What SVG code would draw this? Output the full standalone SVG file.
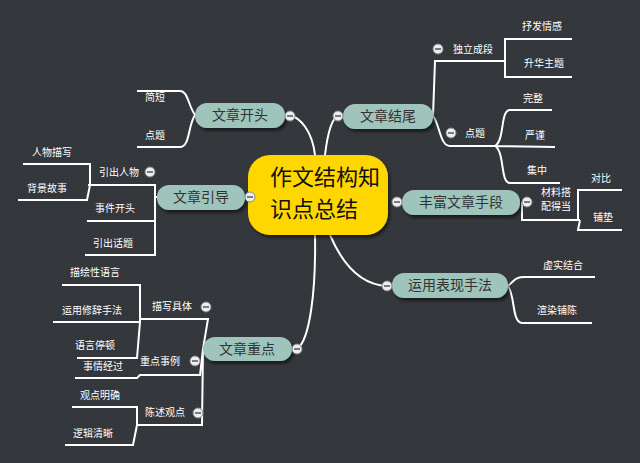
<svg xmlns="http://www.w3.org/2000/svg" width="640" height="463" viewBox="0 0 640 463">
<defs>
<pattern id="dots" width="4" height="4" patternUnits="userSpaceOnUse"><rect width="4" height="4" fill="#33363a"/><rect x="1" y="1" width="1" height="1" fill="#3d4044"/></pattern>
<filter id="sh" x="-10%" y="-10%" width="130%" height="150%"><feDropShadow dx="2" dy="3" stdDeviation="1.5" flood-color="#000" flood-opacity="0.5"/></filter>
</defs>
<style>
.ln{fill:none;stroke:#fff;stroke-width:2}
.mn{fill:#9fc4bc;filter:url(#sh)}
.mt{font-family:"Noto Sans CJK SC",sans-serif;font-size:14px;fill:#333;text-anchor:middle}
.st{font-family:"Noto Sans CJK SC",sans-serif;font-size:10px;fill:#fff;text-anchor:middle}
.cc{fill:#eee;stroke:#888;stroke-width:1}
.cm{stroke:#555;stroke-width:1.5}
</style>
<rect width="640" height="463" fill="url(#dots)"/>
<g id="connectors">
<path class="ln" d="M315 155 C312 130 300 118 290 115"/>
<path class="ln" d="M325 155 C328 130 333 118 338 116"/>
<path class="ln" d="M315 235 C316 290 310 340 297 349"/>
<path class="ln" d="M330 235 C345 270 365 285 387 286"/>
<path class="ln" d="M195 115 C188 105 188 91 180 91 L137 91 M195 115 C188 125 190 147 180 147 L137 147"/>
<path class="ln" d="M157 197 L155 197 L155 185 L88 185 M155 197 L155 255 L85 255 M155 221 L87 221"/>
<path class="ln" d="M90 185 L90 164 L23 164 M90 185 L87 200 L18 200"/>
<path class="ln" d="M203 349 L208 319 L140 319 M203 349 L200 375 L140 375 L137 378 L75 378 M203 349 L202 425 L137 425"/>
<path class="ln" d="M140 319 L140 285 L62 285 M140 319 L140 322 L53 322 M140 322 L137 358 L77 358"/>
<path class="ln" d="M137 425 L137 407 L72 407 M137 425 L133 445 L65 445"/>
<path class="ln" d="M433 116 L435 61 L505 61 M433 116 C440 125 440 146 450 146 L495 146"/>
<path class="ln" d="M505 61 L505 39 L572 39 M505 61 L505 77 L572 77"/>
<path class="ln" d="M495 146 C505 140 500 110 510 110 L552 110 M495 146 L555 147 M495 146 C505 152 500 183 510 183 L560 183"/>
<path class="ln" d="M522 202 L522 220 L580 220 M578 220 L578 190 L622 190 M580 220 L578 230 L622 230"/>
<path class="ln" d="M508 286 C515 280 515 277 525 277 L595 277 M508 286 C515 295 512 323 522 323 L592 323"/>
</g>
<g id="center"><rect x="248" y="155" width="140" height="80" rx="22" fill="#ffd700" filter="url(#sh)"/>
<text x="270" y="185" font-family="Noto Sans CJK SC,sans-serif" font-size="22" fill="#111">作文结构知</text>
<text x="270" y="217" font-family="Noto Sans CJK SC,sans-serif" font-size="22" fill="#111">识点总结</text></g>
<g id="n-kaitou"><rect class="mn" x="195" y="103" width="90" height="25" rx="12"/><text class="mt" x="240" y="120">文章开头</text><circle class="cc" cx="290" cy="116" r="5"/><line class="cm" x1="287" y1="116" x2="293" y2="116"/></g>
<g id="n-yindao"><rect class="mn" x="157" y="185" width="88" height="25" rx="12"/><text class="mt" x="201" y="202">文章引导</text><circle class="cc" cx="250" cy="197" r="5"/><line class="cm" x1="247" y1="197" x2="253" y2="197"/></g>
<g id="n-zhongdian"><rect class="mn" x="203" y="337" width="89" height="24" rx="12"/><text class="mt" x="247" y="354">文章重点</text><circle class="cc" cx="297" cy="349" r="5"/><line class="cm" x1="294" y1="349" x2="300" y2="349"/></g>
<g id="n-jiewei"><rect class="mn" x="343" y="104" width="90" height="25" rx="12"/><text class="mt" x="388" y="121">文章结尾</text><circle class="cc" cx="338" cy="116" r="5"/><line class="cm" x1="335" y1="116" x2="341" y2="116"/></g>
<g id="n-fengfu"><rect class="mn" x="402" y="190" width="118" height="25" rx="12"/><text class="mt" x="461" y="207">丰富文章手段</text><circle class="cc" cx="397" cy="202" r="5"/><line class="cm" x1="394" y1="202" x2="400" y2="202"/><circle class="cc" cx="527" cy="202" r="5"/><line class="cm" x1="524" y1="202" x2="530" y2="202"/></g>
<g id="n-yunyong"><rect class="mn" x="392" y="273" width="116" height="25" rx="12"/><text class="mt" x="450" y="290">运用表现手法</text><circle class="cc" cx="387" cy="286" r="5"/><line class="cm" x1="384" y1="286" x2="390" y2="286"/></g>
<g id="subs">
<text class="st" x="155" y="101">简短</text><text class="st" x="155" y="139">点题</text>
<text class="st" x="119" y="176">引出人物</text><circle class="cc" cx="150" cy="172" r="5"/><line class="cm" x1="147" y1="172" x2="153" y2="172"/>
<text class="st" x="115" y="212">事件开头</text><text class="st" x="113" y="247">引出话题</text>
<text class="st" x="52" y="156">人物描写</text><text class="st" x="47" y="192">背景故事</text>
<text class="st" x="172" y="310">描写具体</text><circle class="cc" cx="206" cy="307" r="5"/><line class="cm" x1="203" y1="307" x2="209" y2="307"/>
<text class="st" x="95" y="276">描绘性语言</text><text class="st" x="92" y="314">运用修辞手法</text><text class="st" x="95" y="349">语言停顿</text>
<text class="st" x="160" y="365">重点事例</text><circle class="cc" cx="195" cy="361" r="5"/><line class="cm" x1="192" y1="361" x2="198" y2="361"/>
<text class="st" x="103" y="370">事情经过</text>
<text class="st" x="165" y="416">陈述观点</text><circle class="cc" cx="198" cy="413" r="5"/><line class="cm" x1="195" y1="413" x2="201" y2="413"/>
<text class="st" x="100" y="399">观点明确</text><text class="st" x="93" y="437">逻辑清晰</text>
<circle class="cc" cx="438" cy="49" r="5"/><line class="cm" x1="435" y1="49" x2="441" y2="49"/><text class="st" x="473" y="53">独立成段</text>
<text class="st" x="542" y="30">抒发情感</text><text class="st" x="544" y="67">升华主题</text>
<circle class="cc" cx="451" cy="133" r="5"/><line class="cm" x1="448" y1="133" x2="454" y2="133"/><text class="st" x="475" y="137">点题</text>
<text class="st" x="533" y="102">完整</text><text class="st" x="535" y="139">严谨</text><text class="st" x="537" y="174">集中</text>
<text class="st" x="556" y="196">材料搭</text><text class="st" x="556" y="210">配得当</text>
<text class="st" x="601" y="182">对比</text><text class="st" x="603" y="221">铺垫</text>
<text class="st" x="563" y="269">虚实结合</text><text class="st" x="557" y="314">渲染铺陈</text>
</g>
</svg>
